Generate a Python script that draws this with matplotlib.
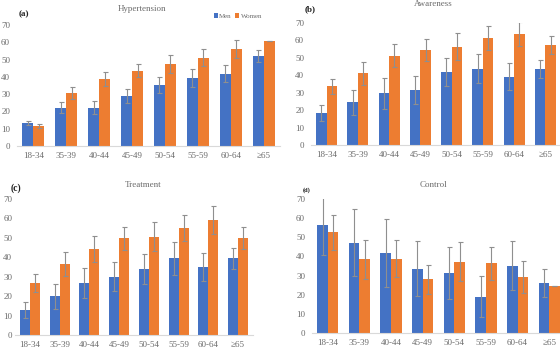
import numpy as np
import matplotlib
matplotlib.use("Agg")
import matplotlib.pyplot as plt

plt.rcParams['font.family'] = ['Liberation Serif', 'DejaVu Serif']

ages = ["18-34", "35-39", "40-44", "45-49", "50-54", "55-59", "60-64", "\u226565"]

hyp_men = [13.4, 22.1, 22.1, 28.7, 35.1, 39.5, 41.9, 51.9]
hyp_women = [11.6, 30.6, 38.6, 43.6, 47.7, 51.0, 56.0, 60.5]
hyp_men_err = [1.1, 3.1, 3.7, 4.1, 4.6, 5.3, 4.8, 3.5]
hyp_women_err = [1.0, 3.3, 4.0, 3.9, 5.2, 5.0, 5.2, 0.0]

aw_men = [18.1, 24.4, 29.6, 31.5, 41.9, 43.8, 39.2, 43.8]
aw_women = [33.8, 41.2, 51.2, 54.6, 56.5, 61.5, 63.8, 57.3]
aw_men_err = [4.6, 6.9, 8.7, 7.9, 8.1, 8.5, 7.7, 5.2]
aw_women_err = [4.3, 6.5, 6.7, 6.2, 7.7, 6.8, 6.8, 5.2]

tr_men = [13.0, 20.0, 26.7, 30.1, 33.9, 39.4, 34.9, 39.4]
tr_women = [26.7, 36.6, 44.3, 49.7, 50.5, 55.3, 59.2, 50.0]
tr_men_err = [4.0, 6.4, 7.7, 7.7, 7.9, 8.4, 7.2, 5.3]
tr_women_err = [4.5, 6.0, 6.6, 5.8, 7.5, 6.7, 7.1, 5.5]

ct_men = [56.6, 47.1, 42.0, 33.5, 31.3, 18.9, 35.2, 26.1]
ct_women = [52.7, 38.4, 38.9, 28.0, 37.3, 36.4, 29.2, 24.5]
ct_men_err = [15.8, 17.5, 17.8, 14.4, 13.4, 10.8, 12.7, 7.3]
ct_women_err = [9.2, 10.0, 9.5, 7.6, 10.3, 8.7, 8.4, 0.0]

W, H = 560, 350
BLUE = "#4472C4"
ORANGE = "#ED7D31"
GREY = "#6b6b6b"

fig = plt.figure(figsize=(W / 100, H / 100), dpi=100)


def make_axes(left, right, top, bottom):
    return fig.add_axes([left / W, 1 - bottom / H, (right - left) / W, (bottom - top) / H])


def panel(ax, men, women, men_err, women_err, ypad=5):
    x = np.arange(len(ages))
    bw = 0.335
    ekw = dict(ecolor="#8f8f8f", elinewidth=0.8, capsize=1.8, capthick=0.8)
    ax.bar(x - bw / 2, men, bw, color=BLUE, yerr=men_err, error_kw=ekw, label="Men")
    ax.bar(x + bw / 2, women, bw, color=ORANGE, yerr=women_err, error_kw=ekw, label="Women")
    ax.set_xlim(-0.5, len(ages) - 0.5)
    ax.set_ylim(0, 70)
    ax.set_yticks(range(0, 71, 10))
    ax.set_xticks(x)
    ax.set_xticklabels(ages)
    for s in ["top", "right", "left"]:
        ax.spines[s].set_visible(False)
    ax.spines["bottom"].set_color("#d9d9d9")
    ax.spines["bottom"].set_linewidth(0.8)
    ax.tick_params(axis="both", length=0, labelsize=6.5, labelcolor=GREY)
    ax.tick_params(axis="x", pad=4)
    ax.tick_params(axis="y", pad=ypad)
    ax.patch.set_alpha(0)


ax_a = make_axes(17, 280, 25, 146)
panel(ax_a, hyp_men, hyp_women, hyp_men_err, hyp_women_err)
ax_b = make_axes(311, 561, 23, 145)
panel(ax_b, aw_men, aw_women, aw_men_err, aw_women_err)
ax_c = make_axes(15, 253, 199, 335)
panel(ax_c, tr_men, tr_women, tr_men_err, tr_women_err, ypad=2)
ax_d = make_axes(312, 565, 199, 333)
panel(ax_d, ct_men, ct_women, ct_men_err, ct_women_err)

# titles and panel letters
def ftext(px, py, s, **kw):
    fig.text(px / W, 1 - py / H, s, ha="center", va="center", **kw)

ftext(142, 9, "Hypertension", fontsize=6.5, color=GREY)
ftext(433, 4, "Awareness", fontsize=6.5, color=GREY)
ftext(143, 185, "Treatment", fontsize=6.5, color=GREY)
ftext(433, 185, "Control", fontsize=6.5, color=GREY)
ftext(24, 14, "(a)", fontsize=6.5, fontweight="bold", color="#222222")
ftext(310, 9, "(b)", fontsize=6.5, fontweight="bold", color="#222222")
ftext(16, 188, "(c)", fontsize=7, fontweight="bold", color="#222222")
ftext(307, 190, "(d)", fontsize=4.5, fontweight="bold", color="#222222")

ax_a.legend(loc="center", bbox_to_anchor=(238 / W, 1 - 16 / H), bbox_transform=fig.transFigure,
            ncol=2, frameon=False, fontsize=5, handlelength=0.6, handleheight=0.6,
            handletextpad=0.2, columnspacing=0.5, labelcolor=GREY)

fig.savefig("out.png", dpi=100)
